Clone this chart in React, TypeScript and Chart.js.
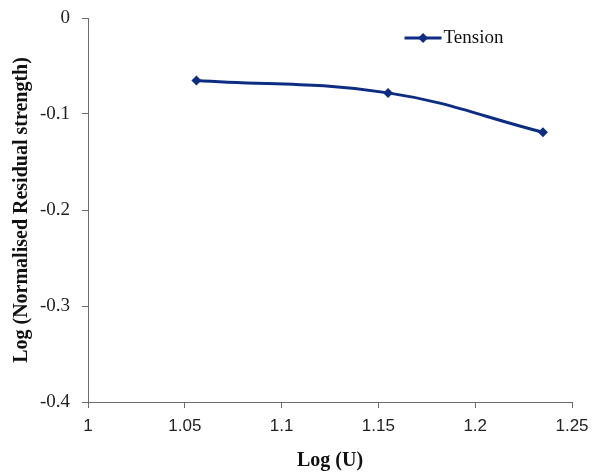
import React, { useEffect, useRef } from "react";
import { Chart, registerables } from "chart.js";

Chart.register(...registerables);

const seriesName = "Tension";
const xValues = [1.056, 1.155, 1.235];
const tensionValues = [-0.065, -0.078, -0.119];
const xTickValues = [1, 1.05, 1.1, 1.15, 1.2, 1.25];
const xTickLabels = ["1", "1.05", "1.1", "1.15", "1.2", "1.25"];
const yTickValues = [0, -0.1, -0.2, -0.3, -0.4];
const yTickLabels = ["0", "-0.1", "-0.2", "-0.3", "-0.4"];
const xTitle = "Log (U)";
const yTitle = "Log (Normalised Residual strength)";

const LINE = "#0c2d82";
const AXIS = "#6b6b6b";

const legendPlugin = {
  id: "customLegend",
  afterDraw(chart: any) {
    const { ctx, chartArea } = chart;
    const w = chartArea.right - chartArea.left;
    const h = chartArea.bottom - chartArea.top;
    const x0 = chartArea.left + w * 0.654;
    const x1 = x0 + 37;
    const y = chartArea.top + h * 0.052;
    ctx.save();
    ctx.strokeStyle = LINE;
    ctx.lineWidth = 3;
    ctx.beginPath();
    ctx.moveTo(x0, y);
    ctx.lineTo(x1, y);
    ctx.stroke();
    const cx = (x0 + x1) / 2;
    const r = 5;
    ctx.fillStyle = LINE;
    ctx.beginPath();
    ctx.moveTo(cx, y - r);
    ctx.lineTo(cx + r, y);
    ctx.lineTo(cx, y + r);
    ctx.lineTo(cx - r, y);
    ctx.closePath();
    ctx.fill();
    ctx.fillStyle = "#111";
    ctx.font = "19px 'Liberation Serif'";
    ctx.textBaseline = "middle";
    ctx.textAlign = "left";
    ctx.fillText(seriesName, x1 + 2, y);
    ctx.restore();
  },
};

export default function App() {
  const ref = useRef<HTMLCanvasElement>(null);

  useEffect(() => {
    document.body.style.margin = "0";
    const canvas = ref.current;
    if (!canvas) return;
    const chart = new Chart(canvas, {
      type: "line",
      data: {
        datasets: [
          {
            label: seriesName,
            data: xValues.map((x, i) => ({ x, y: tensionValues[i] })),
            borderColor: LINE,
            backgroundColor: LINE,
            borderWidth: 3,
            pointStyle: "rectRot",
            pointRadius: 5,
            pointBackgroundColor: LINE,
            pointBorderColor: LINE,
            pointBorderWidth: 0,
            tension: 0.4,
            fill: false,
          },
        ],
      },
      options: {
        animation: false,
        responsive: false,
        maintainAspectRatio: false,
        layout: { padding: { top: 18, right: 20, left: 0, bottom: 0 } },
        plugins: { legend: { display: false }, tooltip: { enabled: false } },
        scales: {
          x: {
            type: "linear",
            min: 1,
            max: 1.25,
            afterBuildTicks: (scale: any) => {
              scale.ticks = xTickValues.map((v) => ({ value: v }));
            },
            afterFit: (scale: any) => {
              scale.height = 71;
              scale.paddingLeft = 0;
              scale.paddingRight = 0;
            },
            ticks: {
              autoSkip: false,
              maxRotation: 0,
              padding: 8,
              color: "#222",
              font: { family: "'Liberation Sans'", size: 17 },
              callback: (v: any) => {
                const i = xTickValues.findIndex((t) => Math.abs(t - Number(v)) < 1e-9);
                return i >= 0 ? xTickLabels[i] : "";
              },
            },
            grid: {
              drawOnChartArea: false,
              drawTicks: true,
              tickLength: 6,
              tickColor: AXIS,
              lineWidth: 1,
            },
            border: { display: true, color: AXIS, width: 1 },
            title: {
              display: true,
              text: xTitle,
              color: "#111",
              font: { family: "'Liberation Serif'", size: 20, weight: "bold" },
              padding: { top: 0, bottom: 0 },
            },
          },
          y: {
            type: "linear",
            min: -0.4,
            max: 0,
            afterBuildTicks: (scale: any) => {
              scale.ticks = yTickValues.map((v) => ({ value: v }));
            },
            afterFit: (scale: any) => {
              scale.width = 88;
              scale.paddingTop = 0;
              scale.paddingBottom = 0;
            },
            ticks: {
              autoSkip: false,
              padding: 12,
              color: "#222",
              font: { family: "'Liberation Serif'", size: 19 },
              callback: (v: any) => {
                const i = yTickValues.findIndex((t) => Math.abs(t - Number(v)) < 1e-9);
                return i >= 0 ? yTickLabels[i] : "";
              },
            },
            grid: {
              drawOnChartArea: false,
              drawTicks: true,
              tickLength: 6,
              tickColor: AXIS,
              lineWidth: 1,
            },
            border: { display: true, color: AXIS, width: 1 },
            title: {
              display: true,
              text: yTitle,
              color: "#111",
              font: { family: "'Liberation Serif'", size: 20, weight: "bold" },
              padding: { top: 10, bottom: 0 },
            },
          },
        },
      },
      plugins: [legendPlugin],
    });
    return () => chart.destroy();
  }, []);

  return <canvas ref={ref} width={592} height={473} style={{ display: "block" }} />;
}
